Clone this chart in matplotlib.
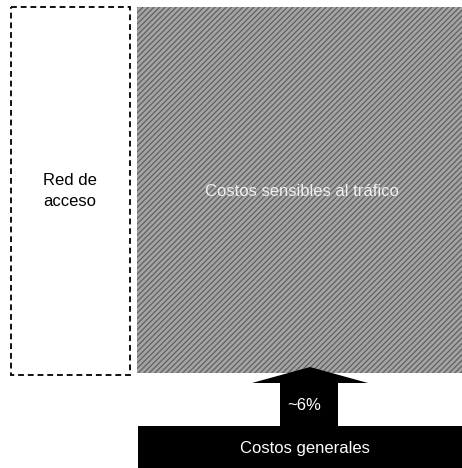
import matplotlib.pyplot as plt
from matplotlib.patches import Rectangle, Polygon

# ===== LABELS =====
access_label = "Red de\nacceso"
traffic_label = "Costos sensibles al tráfico"
overhead_label = "Costos generales"
share_label = "~6%"

plt.rcParams["font.family"] = ["Liberation Sans", "DejaVu Sans"]
plt.rcParams["hatch.color"] = "#606060"
plt.rcParams["hatch.linewidth"] = 0.9

# ===== FIGURE =====
fig = plt.figure(figsize=(4.62, 4.68), dpi=100)
ax = fig.add_axes([0, 0, 1, 1])
ax.set_xlim(0, 462)
ax.set_ylim(468, 0)
ax.axis("off")

# access network (dashed box)
ax.add_patch(Rectangle((11, 7), 119, 368, fill=False, edgecolor="#111111",
                       linestyle=(0, (3, 2)), linewidth=1.4))
ax.text(70, 191, access_label, ha="center", va="center", fontsize=12,
        color="black", linespacing=1.45)

# traffic-sensitive costs (grey scanned block)
ax.add_patch(Rectangle((137, 7), 325, 366, facecolor="#a4a4a4",
                       edgecolor="#606060", linewidth=0, hatch="//////"))
ax.text(302, 192, traffic_label, ha="center", va="center", fontsize=12,
        color="#f0f0f0")

# arrow from overhead to traffic costs
arrow = Polygon([(280, 428), (280, 383), (252, 383), (310, 367), (368, 383),
                 (338, 383), (338, 428)], closed=True, facecolor="black",
                edgecolor="none")
ax.add_patch(arrow)
ax.text(304, 406, share_label, ha="center", va="center", fontsize=12,
        color="white")

# overhead costs (black block)
ax.add_patch(Rectangle((138, 426), 324, 42, facecolor="black", edgecolor="none"))
ax.text(305, 448, overhead_label, ha="center", va="center", fontsize=12,
        color="white")

fig.savefig("out.png", dpi=100)
